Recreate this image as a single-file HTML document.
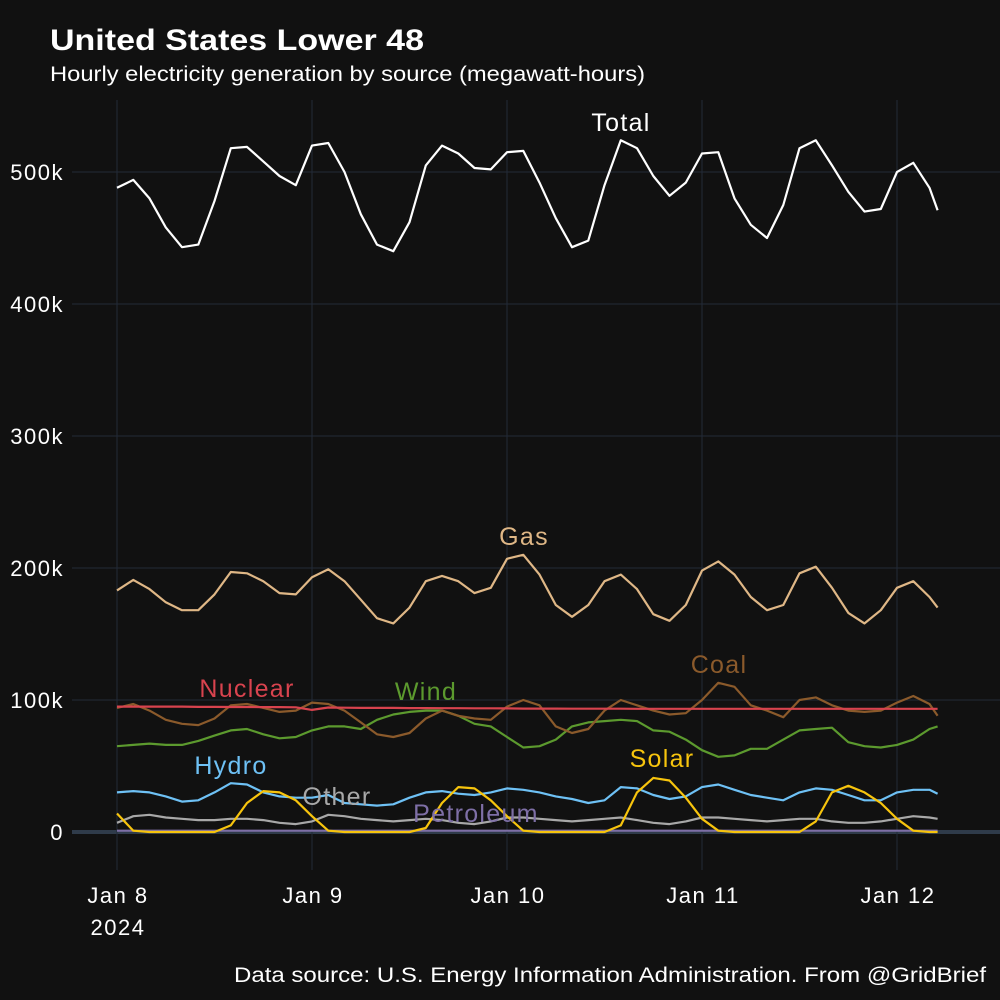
<!DOCTYPE html>
<html><head><meta charset="utf-8">
<style>
html,body{margin:0;padding:0;background:#111111;}
svg{display:block;font-family:"Liberation Sans",Arial,sans-serif;}
</style></head>
<body>
<svg id="chart" width="1000" height="1000" viewBox="0 0 1000 1000">
<rect width="1000" height="1000" fill="#111111"/>
<text x="50" y="50" fill="#fff" font-size="30" font-weight="bold" textLength="374" lengthAdjust="spacingAndGlyphs">United States Lower 48</text>
<text x="50" y="81" fill="#fff" font-size="21" textLength="595" lengthAdjust="spacingAndGlyphs">Hourly electricity generation by source (megawatt-hours)</text>
<text x="234" y="982" fill="#fff" font-size="21" textLength="752" lengthAdjust="spacingAndGlyphs">Data source: U.S. Energy Information Administration. From @GridBrief</text>
<g id="grid"></g>
<g id="axes"></g>
<g id="series"></g>
<g id="labels"></g>
</svg>
<script>
const hours = [0,2,4,6,8,10,12,14,16,18,20,22,24,26,28,30,32,34,36,38,40,42,44,46,48,50,52,54,56,58,60,62,64,66,68,70,72,74,76,78,80,82,84,86,88,90,92,94,96,98,100,101];
const totalK = [488,494,480,458,443,445,478,518,519,508,497,490,520,522,500,468,445,440,462,505,520,514,503,502,515,516,492,465,443,448,490,524,518,497,482,492,514,515,480,460,450,475,518,524,505,485,470,472,500,507,488,471];
const gasK = [183,191,184,174,168,168,180,197,196,190,181,180,193,199,190,176,162,158,170,190,194,190,181,185,207,210,195,172,163,172,190,195,184,165,160,172,198,205,195,178,168,172,196,201,185,166,158,168,185,190,178,170];
const coalK = [94,97,92,85,82,81,86,96,97,94,91,92,98,97,92,83,74,72,75,86,92,88,86,85,95,100,96,80,75,78,92,100,96,92,89,90,100,113,110,96,92,87,100,102,96,92,91,92,98,103,97,88];
const nuclearK = [95,95,95,95,95,94.8,94.8,94.7,94.7,94.6,94.6,94.5,92.5,94.3,94.2,94,94,94,93.9,93.9,93.8,93.8,93.7,93.7,93.6,93.5,93.5,93.5,93.4,93.4,93.4,93.4,93.3,93.3,93.3,93.3,93.3,93.3,93.3,93.3,93.3,93.3,93.3,93.3,93.3,93.3,93.3,93.3,93.3,93.3,93.3,93.3];
const windK = [65,66,67,66,66,69,73,77,78,74,71,72,77,80,80,78,85,89,91,92,92,88,82,80,72,64,65,70,80,83,84,85,84,77,76,70,62,57,58,63,63,70,77,78,79,68,65,64,66,70,78,80];
const hydroK = [30,31,30,27,23,24,30,37,36,30,27,26,26,28,22,21,20,21,26,30,31,29,28,30,33,32,30,27,25,22,24,34,33,28,25,27,34,36,32,28,26,24,30,33,32,28,24,24,30,32,32,29];
const otherK = [7,12,13,11,10,9,9,10,10,9,7,6,8,13,12,10,9,8,9,10,9,7,6,8,11,11,10,9,8,9,10,11,9,7,6,8,11,11,10,9,8,9,10,10,8,7,7,8,10,12,11,10];
const solarK = [14,1,0,0,0,0,0,5,22,31,30,24,12,1,0,0,0,0,0,3,22,34,33,24,12,1,0,0,0,0,0,5,30,41,39,26,10,1,0,0,0,0,0,8,30,35,30,22,10,1,0,0];
const petroleumK = [1,1,1,1,1,1,1,1,1,1,1,1,1,1,1,1,1,1,1,1,1,1,1,1,1,1,1,1,1,1,1,1,1,1,1,1,1,1,1,1,1,1,1,1,1,1,1,1,1,1,1,1];
const yTicks = [0,100,200,300,400,500];
const yTickLabels = ["0","100k","200k","300k","400k","500k"];
const xTickHours = [0,24,48,72,96];
const xTickLabels = ["Jan 8","Jan 9","Jan 10","Jan 11","Jan 12"];

const NS = "http://www.w3.org/2000/svg";
function xScale(h){ return 117 + h * 8.125; }
function yScale(k){ return 832 - k * 1.32; }
function mk(tag, attrs, parent){
  const e = document.createElementNS(NS, tag);
  for (const a in attrs) e.setAttribute(a, attrs[a]);
  parent.appendChild(e);
  return e;
}
const grid = document.getElementById('grid');
const axes = document.getElementById('axes');
const series = document.getElementById('series');
const labels = document.getElementById('labels');

yTicks.forEach((v, i) => {
  const y = yScale(v);
  const l = mk('line', {x1: 72, x2: 1000, y1: y, y2: y, stroke: v === 0 ? '#2f3b4a' : '#222b38', 'stroke-width': v === 0 ? 4 : 1}, grid);
  
  
  const t = mk('text', {x: 64, y: y + 8, fill: '#fff', 'font-size': 22, 'letter-spacing': 1.5, 'text-anchor': 'end'}, axes);
  t.textContent = yTickLabels[i];
  
  
});
xTickHours.forEach((h, i) => {
  const x = xScale(h);
  const l = mk('line', {x1: x, x2: x, y1: 100, y2: 870, stroke: '#222b38', 'stroke-width': 1}, grid);
  
  
  const t = mk('text', {x: x + 1, y: 903, fill: '#fff', 'font-size': 22, 'letter-spacing': 1.5, 'text-anchor': 'middle'}, axes);
  t.textContent = xTickLabels[i];
  
  
});
const yr = mk('text', {x: xScale(0) + 1, y: 935, fill: '#fff', 'font-size': 22, 'letter-spacing': 1.5, 'text-anchor': 'middle'}, axes);
yr.textContent = '2024';



function drawLine(vals, color, name){
  const d = vals.map((v, i) => (i ? 'L' : 'M') + xScale(hours[i]).toFixed(1) + ' ' + yScale(v).toFixed(1)).join(' ');
  const p = mk('path', {d: d, fill: 'none', stroke: color, 'stroke-width': 2.2, 'stroke-linejoin': 'round'}, series);
  
  
}
drawLine(petroleumK, '#7e6fa6', 'petroleum-line');
drawLine(otherK, '#a8a8a8', 'other-line');
drawLine(hydroK, '#6ec1f5', 'hydro-line');
drawLine(windK, '#5c9a2e', 'wind-line');
drawLine(coalK, '#8b5a2b', 'coal-line');
drawLine(nuclearK, '#d8434e', 'nuclear-line');
drawLine(gasK, '#dfb786', 'gas-line');
drawLine(solarK, '#f7c40d', 'solar-line');
drawLine(totalK, '#ffffff', 'total-line');

function label(txt, x, y, color, name){
  const t = mk('text', {x: x + 1, y: y, fill: color, 'font-size': 25, 'letter-spacing': 1.3, 'text-anchor': 'middle'}, labels);
  t.textContent = txt;
  
  
}
label('Total', 620, 131, '#ffffff', 'total-label');
label('Gas', 523, 545, '#dfb786', 'gas-label');
label('Coal', 718, 673, '#8b5a2b', 'coal-label');
label('Nuclear', 246, 697, '#d8434e', 'nuclear-label');
label('Wind', 425, 700, '#5c9a2e', 'wind-label');
label('Solar', 661, 767, '#f7c40d', 'solar-label');
label('Hydro', 230, 774, '#6ec1f5', 'hydro-label');
label('Other', 336, 805, '#a8a8a8', 'other-label');
label('Petroleum', 475, 822, '#7e6fa6', 'petroleum-label');
</script>
</body></html>
